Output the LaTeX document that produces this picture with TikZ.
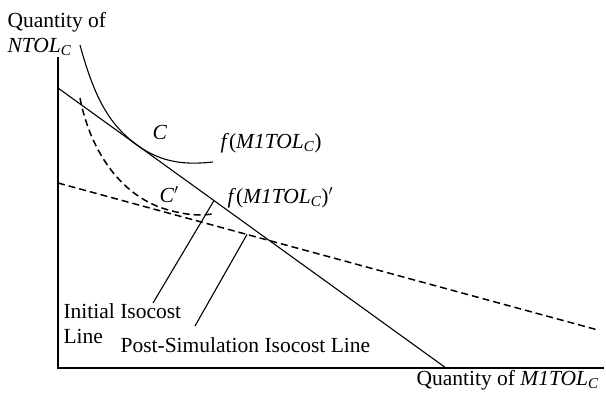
\documentclass[tikz,border=0pt]{standalone}
\usepackage{fontspec}
\setmainfont{Liberation Serif}
\usetikzlibrary{calc}
\begin{document}
\begin{tikzpicture}[x=1pt,y=-1pt,line width=1.1pt,
  lbl/.style={inner sep=0pt,anchor=base west,font=\fontsize{21.5}{25}\selectfont},
  dsh/.style={dash pattern=on 7pt off 4pt,line width=1.5pt},
  leader/.style={line width=1.1pt}]
\useasboundingbox (0,0) rectangle (606,394);
% axes
\coordinate (ytop) at (58,57);
\coordinate (O) at (58,368);
\coordinate (xend) at (604,368);
\draw (ytop) -- (O) -- (xend);
% isocost lines
\coordinate (s1) at (58,88);
\coordinate (s2) at (446,368);
\draw (s1) -- (s2);
\coordinate (d1) at (58,183);
\coordinate (d2) at (598,330);
\draw[dsh] (d1) -- (d2);
% isoquants
\draw (80,45) .. controls (95,100) and (110,125) .. (137,145)
      .. controls (162,163) and (185,165) .. (213,162);
\draw[dsh] (80,98) .. controls (90,150) and (120,195) .. (165,209)
      .. controls (185,215) and (200,216) .. (212,214);
% labels
\node[lbl] (qy) at (7,27) {Quantity of};
\node[lbl] (ny) at (7,52) {\textit{NTOL\textsubscript{C}}};
\node[lbl] (qx) at (416,385) {Quantity of \textit{M1TOL\textsubscript{C}}};
\node[lbl] (cl) at (152,139) {\textit{C}};
\node[lbl] (cp) at (159,202) {\textit{C}${}'$};
\node[lbl] (f1) at (220,148) {\textit{f}(\textit{M1TOL\textsubscript{C}})};
\node[lbl] (f2) at (227,203) {\textit{f}(\textit{M1TOL\textsubscript{C}})${}'$};
\node[lbl] (ini) at (63,318) {Initial Isocost};
\node[lbl] (inl) at (63,343) {Line};
\node[lbl] (post) at (120,352) {Post-Simulation Isocost Line};
% leaders
\coordinate (ia) at ($(s1)!0.402!(s2)$);
\coordinate (ib) at (153,303);
\draw[leader] (ia) -- (ib);
\coordinate (pa) at ($(d1)!0.35!(d2)$);
\coordinate (pb) at (195,326);
\draw[leader] (pa) -- (pb);
\end{tikzpicture}
\end{document}
